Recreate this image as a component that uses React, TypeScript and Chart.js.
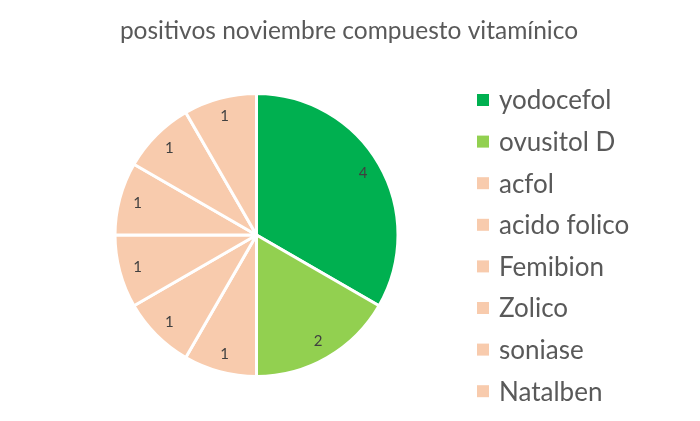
import React, { useEffect, useRef } from "react";
import { Chart, registerables } from "chart.js";

Chart.register(...registerables);

const TITLE = "positivos noviembre compuesto vitamínico";
const categories = ["yodocefol", "ovusitol D", "acfol", "acido folico", "Femibion", "Zolico", "soniase", "Natalben"];
const values = [4, 2, 1, 1, 1, 1, 1, 1];
const colors = ["#00B050", "#92D050", "#F8CBAD", "#F8CBAD", "#F8CBAD", "#F8CBAD", "#F8CBAD", "#F8CBAD"];

const FONT = "Lato, 'Open Sans', sans-serif";
const TEXT = "#595959";

const overlayPlugin = {
  id: "overlay",
  afterDatasetsDraw(chart: any) {
    const ctx = chart.ctx;
    const meta = chart.getDatasetMeta(0);
    ctx.save();
    // data labels
    ctx.fillStyle = "#404040";
    ctx.font = `15px ${FONT}`;
    ctx.textAlign = "center";
    ctx.textBaseline = "middle";
    meta.data.forEach((arc: any, i: number) => {
      const { x, y, startAngle, endAngle, outerRadius } = arc.getProps(["x", "y", "startAngle", "endAngle", "outerRadius"], true);
      const mid = (startAngle + endAngle) / 2;
      const r = outerRadius * 0.87;
      ctx.fillText(String(chart.data.datasets[0].data[i]), x + Math.cos(mid) * r, y + Math.sin(mid) * r);
    });
    // title
    ctx.fillStyle = TEXT;
    ctx.font = `24.5px ${FONT}`;
    ctx.textAlign = "center";
    ctx.fillText(TITLE, 349, 31);
    // legend
    ctx.textAlign = "left";
    ctx.font = `26px ${FONT}`;
    const labels = chart.data.labels as string[];
    labels.forEach((lab, i) => {
      const cy = 100 + i * 41.6;
      ctx.fillStyle = chart.data.datasets[0].backgroundColor[i];
      ctx.fillRect(477, cy - 6, 12, 12);
      ctx.fillStyle = TEXT;
      ctx.fillText(lab, 499, cy + 1);
    });
    ctx.restore();
  },
};

export default function App() {
  const ref = useRef<HTMLCanvasElement>(null);
  useEffect(() => {
    document.body.style.margin = "0";
    const chart = new Chart(ref.current!, {
      type: "pie",
      data: {
        labels: categories,
        datasets: [
          {
            data: values,
            backgroundColor: colors,
            borderColor: "#FFFFFF",
            borderWidth: 3,
          },
        ],
      },
      options: {
        animation: false,
        responsive: false,
        devicePixelRatio: 1,
        layout: { padding: { top: 91.5, bottom: 42.5, left: 113.5, right: 300.5 } },
        plugins: {
          legend: { display: false },
          title: { display: false },
          tooltip: { enabled: false },
        },
      },
      plugins: [overlayPlugin],
    });
    return () => chart.destroy();
  }, []);
  return (
    <div style={{ width: 700, height: 421, background: "#fff" }}>
      <canvas ref={ref} width={700} height={421} />
    </div>
  );
}
